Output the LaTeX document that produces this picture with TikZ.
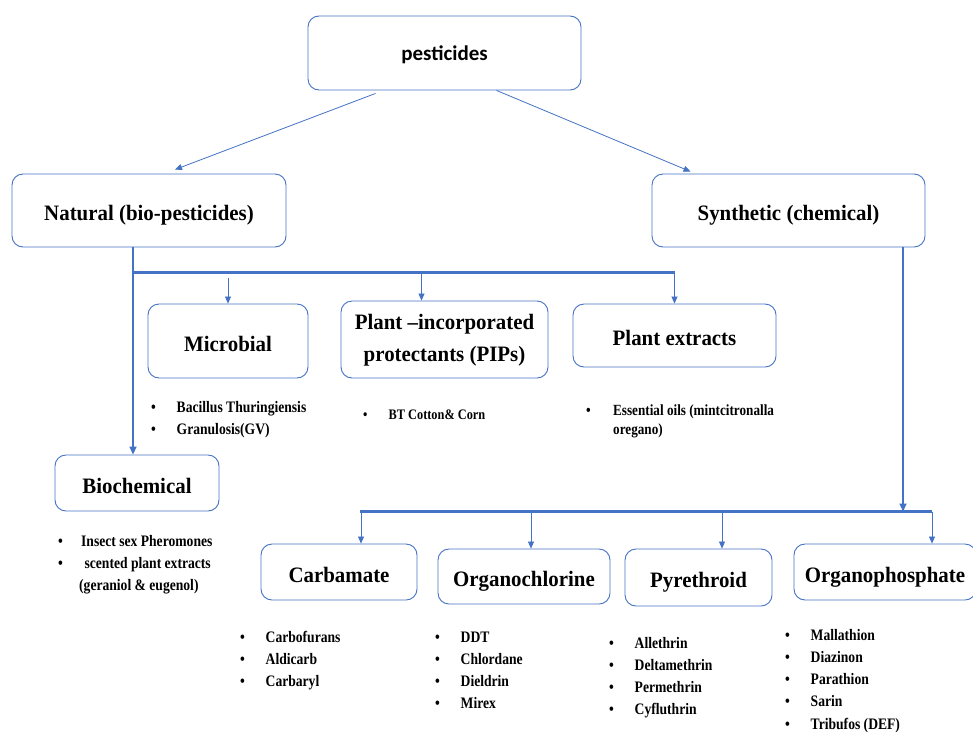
\documentclass[tikz,border=0pt]{standalone}
\usepackage{fontspec}
\setmainfont{Liberation Serif}
\newfontfamily\rotulo[FakeStretch=0.95]{Liberation Serif}
\newfontfamily\lista[FakeStretch=0.85]{Liberation Serif}
\newfontfamily\calibri{Carlito}
\usepackage{xcolor}
\usetikzlibrary{arrows.meta}
\usetikzlibrary{positioning}
\definecolor{azul}{HTML}{4472C4}
\tikzset{
  borda/.style={draw=azul, line width=0.9pt, rounded corners=11pt, fill=white, align=center, minimum width=#1, inner sep=2pt, font=\rotulo\bfseries\fontsize{22}{32}\selectfont},
  borda/.default=160pt,
  bloco/.style={borda=#1, text height=22pt, text depth=1.4pt},
  bloco/.default=160pt,
  itens/.style={inner sep=0pt, anchor=base west, font=\lista\bfseries\fontsize{16}{22.3}\selectfont},
  seta/.style={-{Triangle[length=7pt,width=6pt]}, draw=azul, line width=0.8pt},
  tronco/.style={-{Triangle[length=8pt,width=7pt]}, draw=azul, line width=1.6pt},
  barra/.style={draw=azul, line width=2.2pt},
}
\newcommand{\bala}[1][25.5pt]{\makebox[#1][l]{\textbullet}}

\begin{document}
\begin{tikzpicture}[x=1pt,y=-1pt]
  \clip (0,0) rectangle (973,731);
  \fill[white] (0,0) rectangle (973,731);
  % topo
  \node[borda=273pt, minimum height=74pt, text height=18pt, text depth=4pt, font=\calibri\bfseries\fontsize{21}{24}\selectfont] (pest) at (444.5,53) {pesticides};
  \node[bloco=274pt, minimum height=73pt] (natural) at (149,210.5) {Natural (bio-pesticides)};
  \node[bloco=273pt, minimum height=73pt] (synthetic) at (788.5,210.5) {Synthetic (chemical)};
  \draw[seta] ([xshift=-69pt,yshift=-3pt]pest.south) -- ([xshift=26pt,yshift=4pt]natural.north);
  \draw[seta] ([xshift=52pt]pest.south) -- ([xshift=-98pt,yshift=2pt]synthetic.north);

  % ramo natural
  \node[bloco=160pt, minimum height=74pt] (microbial) at (228,341) {Microbial};
  \node[borda=207pt, minimum height=77pt] (pips) at (444.5,339.5) {\raisebox{-4pt}{\begin{tabular}{@{}c@{}}Plant \textendash incorporated\\protectants (PIPs)\end{tabular}}};
  \node[bloco=203pt, minimum height=63pt] (extracts) at (674.5,335.5) {Plant extracts};
  \node[bloco=164pt, minimum height=56pt] (biochem) at (137,483) {Biochemical};
  \coordinate (nbarra) at ([xshift=-16pt,yshift=-25pt]natural.south);
  \draw[tronco] ([xshift=-16pt]natural.south) -- ([xshift=-16pt]natural.south |- biochem.north);
  \draw[barra] (nbarra) -- (nbarra -| extracts.north);
  \draw[seta] ([yshift=-6pt]nbarra -| microbial.north) -- (microbial.north);
  \draw[seta] ([xshift=-23pt]pips.north |- nbarra) -- ([xshift=-23pt]pips.north);
  \draw[seta] (nbarra -| extracts.north) -- (extracts.north);

  \node[itens] (lmicro) at (151,412) {\begin{tabular}[t]{@{}l@{}}
    \bala Bacillus Thuringiensis\\ \bala Granulosis(GV)\end{tabular}};
  \node[itens, font=\lista\bfseries\fontsize{14.5}{20}\selectfont] (lpips) at (363,419) {\begin{tabular}[t]{@{}l@{}}
    \bala BT Cotton\& Corn\end{tabular}};
  \node[itens, font=\lista\bfseries\fontsize{15.5}{19.5}\selectfont] (lextr) at (586,415) {\begin{tabular}[t]{@{}l@{}}
    \bala[27pt]Essential oils (mintcitronalla\\ \hspace{27pt}oregano)\end{tabular}};
  \node[itens] (lbio) at (58,546) {\begin{tabular}[t]{@{}l@{}}
    \bala[23pt]Insect sex Pheromones\\ \bala[23pt]\ scented plant extracts\\ \hspace{21pt}(geraniol \& eugenol)\end{tabular}};

  % ramo sintetico
  \node[bloco=156pt, minimum height=56pt] (carbamate) at (339,572) {Carbamate};
  \node[bloco=172pt, minimum height=55pt] (organocl) at (524,576.5) {Organochlorine};
  \node[bloco=147pt, minimum height=57pt] (pyreth) at (698.5,577.5) {Pyrethroid};
  \node[bloco=182pt, minimum height=56pt] (organoph) at (885,572) {Organophosphate};
  \coordinate (sbarra) at (360,511.5);
  \draw[tronco] ([xshift=114.5pt]synthetic.south) -- ([xshift=114.5pt]synthetic.south |- sbarra);
  \draw[barra] (sbarra) -- ([xshift=47pt]organoph.north |- sbarra);
  \draw[seta] ([xshift=22pt]carbamate.north |- sbarra) -- ([xshift=22pt]carbamate.north);
  \draw[seta] ([xshift=7pt]organocl.north |- sbarra) -- ([xshift=7pt]organocl.north);
  \draw[seta] ([xshift=23.5pt]pyreth.north |- sbarra) -- ([xshift=23.5pt]pyreth.north);
  \draw[seta] ([xshift=47pt]organoph.north |- sbarra) -- ([xshift=47pt]organoph.north);

  \node[itens] (lcarb) at (240,642) {\begin{tabular}[t]{@{}l@{}}
    \bala Carbofurans\\ \bala Aldicarb\\ \bala Carbaryl\end{tabular}};
  \node[itens] (lorgcl) at (435,642) {\begin{tabular}[t]{@{}l@{}}
    \bala DDT\\ \bala Chlordane\\ \bala Dieldrin\\ \bala Mirex\end{tabular}};
  \node[itens] (lpyr) at (609,648) {\begin{tabular}[t]{@{}l@{}}
    \bala Allethrin\\ \bala Deltamethrin\\ \bala Permethrin\\ \bala Cyfluthrin\end{tabular}};
  \node[itens] (lorgph) at (785,640) {\begin{tabular}[t]{@{}l@{}}
    \bala Mallathion\\ \bala Diazinon\\ \bala Parathion\\ \bala Sarin\\ \bala Tribufos (DEF)\end{tabular}};
\end{tikzpicture}
\end{document}
